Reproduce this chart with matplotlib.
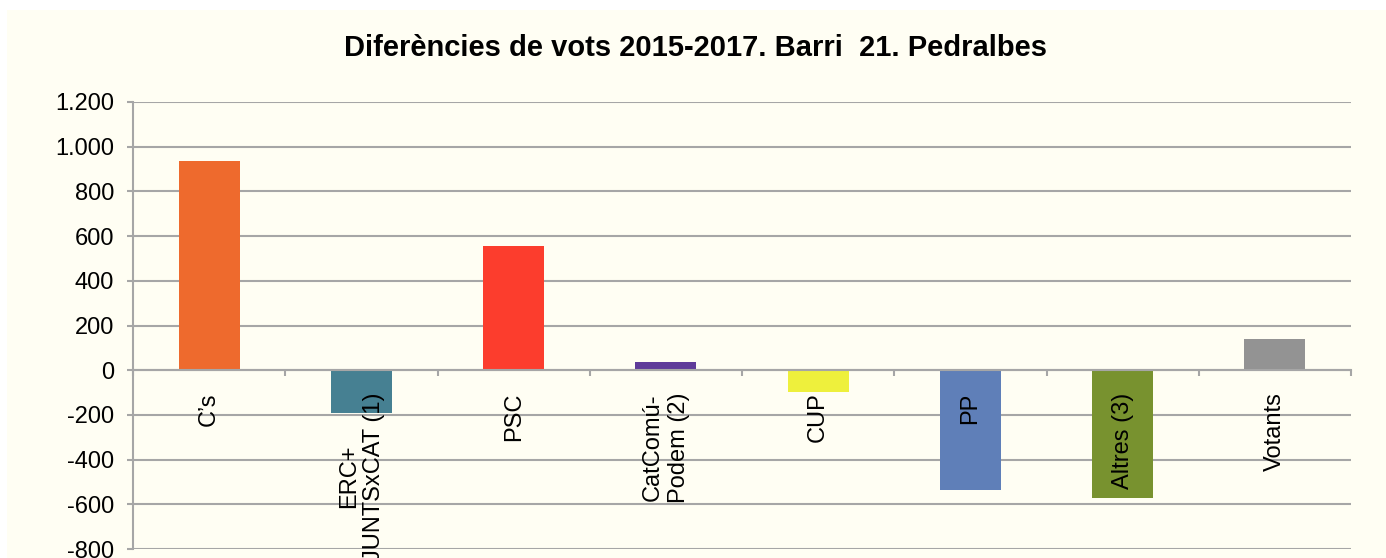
import matplotlib.pyplot as plt
from matplotlib.patches import Rectangle
from matplotlib.ticker import FuncFormatter

partits = ["C’s", "ERC+\nJUNTSxCAT (1)", "PSC", "CatComú-\nPodem (2)", "CUP", "PP", "Altres (3)", "Votants"]
diferencies = [937, -191, 557, 36, -97, -535, -570, 139]
colors = ["#EE6A2D", "#468092", "#FC3D2D", "#5F3B99", "#EEF03C", "#5F7FB8", "#78922F", "#939393"]
yticks = [-800, -600, -400, -200, 0, 200, 400, 600, 800, 1000, 1200]

crema = "#FFFEF3"
gris = "#A6A6A6"

plt.rcParams['font.family'] = ['Liberation Sans', 'DejaVu Sans']

fig = plt.figure(figsize=(13.86, 5.58), dpi=100, facecolor='white')
# fons de l'area del grafic
fig.patches.append(Rectangle((7 / 1386, 0), 1, 1 - 10 / 558, transform=fig.transFigure,
                             facecolor=crema, edgecolor='none', zorder=-5))

ax = fig.add_axes([133 / 1386, 9 / 558, (1351 - 133) / 1386, (549 - 102) / 558])
ax.set_facecolor(crema)

x = list(range(len(partits)))
ax.bar(x, diferencies, width=0.4, color=colors, zorder=3)

ax.set_ylim(-800, 1200)
ax.set_xlim(-0.5, len(partits) - 0.5)
ax.set_yticks(yticks)
ax.yaxis.set_major_formatter(FuncFormatter(lambda v, p: f"{int(v):,}".replace(",", ".")))
ax.yaxis.grid(True, color=gris, linewidth=1.5, zorder=1)
ax.set_axisbelow(True)

for s in ['top', 'right']:
    ax.spines[s].set_visible(False)
ax.spines['left'].set_color(gris)
ax.spines['left'].set_linewidth(1.5)
ax.spines['bottom'].set_position(('data', 0))
ax.spines['bottom'].set_color(gris)
ax.spines['bottom'].set_linewidth(1.5)
ax.spines['bottom'].set_zorder(4)

ax.tick_params(axis='y', direction='out', length=4.5, width=1.5, color=gris,
               labelsize=17, pad=9)
ax.set_xticks([i - 0.5 for i in range(len(partits) + 1)])
ax.set_xticklabels([])
ax.tick_params(axis='x', direction='out', length=4.5, width=1.5, color=gris)

# etiquetes de categoria per sobre de les barres
for i, nom in zip(x, partits):
    ax.annotate(nom, xy=(i, 0), xytext=(0, -16), textcoords='offset points',
                rotation=90, ha='center', va='top', multialignment='center',
                fontsize=17, zorder=6)

fig.text(0.502, 1 - 48 / 558, "Diferències de vots 2015-2017. Barri  21. Pedralbes",
         ha='center', va='center', fontsize=21, fontweight='bold')

plt.savefig('out.png', dpi=100, facecolor='white')
